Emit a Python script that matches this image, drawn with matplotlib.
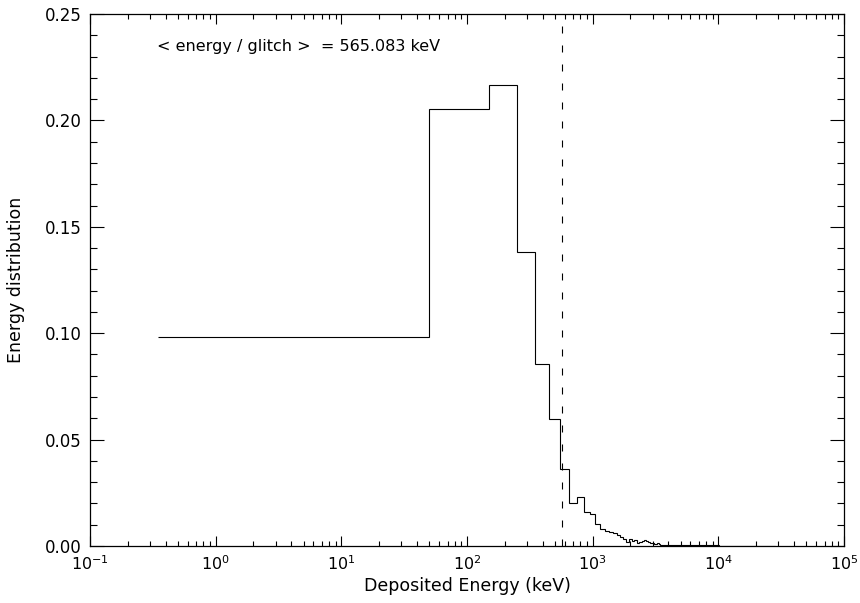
import numpy as np
import matplotlib
matplotlib.use("Agg")
import matplotlib.pyplot as plt
from matplotlib.ticker import LogLocator, MultipleLocator, FixedLocator

# bin edges (keV) and the normalised energy distribution
edges_fine = [0.35] + list(range(50, 3600, 100))
edges_tail = [4550, 6050, 8050, 10050, 15050, 28000]
bin_edges = np.array(edges_fine + edges_tail, dtype=float)

energy_dist = [
    0.0980, 0.2055, 0.2165, 0.1380, 0.0855, 0.0595, 0.0360, 0.0204,
    0.0232, 0.0160, 0.0150, 0.0105, 0.0082, 0.0069, 0.0064, 0.0059,
    0.0052, 0.0043, 0.0031, 0.0019, 0.0032, 0.0024, 0.0026, 0.0013,
    0.0017, 0.0022, 0.0027, 0.0024, 0.0019, 0.0014, 0.0016, 0.0011,
    0.0009, 0.0012, 0.0008, 0.0007,
    0.0006, 0.0005, 0.0006, 0.0004, 0.0002, 0.0001,
]

mean_energy = 565.083

STYLE = {
    "font": "DejaVu Sans",
    "label_size": 12.5,
    "tick_size": 12,
    "text_size": 11.5,
    "line_width": 0.8,
}

plt.rcParams["font.family"] = STYLE["font"]
plt.rcParams["mathtext.fontset"] = "dejavusans"

fig = plt.figure(figsize=(8.6, 6.03), dpi=100)
ax = fig.add_axes([90 / 860, 1 - 546 / 603, 754 / 860, 532 / 603])

ax.stairs(energy_dist, bin_edges, baseline=None, color="black",
          linewidth=STYLE["line_width"])
ax.axvline(mean_energy, color="black", linewidth=STYLE["line_width"],
           linestyle=(0, (6.3, 10.8)))

ax.set_xscale("log")
ax.set_xlim(0.1, 1e5)
ax.set_ylim(0, 0.25)

ax.xaxis.set_major_locator(FixedLocator([1e-1, 1e0, 1e1, 1e2, 1e3, 1e4, 1e5]))
ax.xaxis.set_minor_locator(LogLocator(base=10, subs=np.arange(2, 10), numticks=20))
ax.yaxis.set_major_locator(MultipleLocator(0.05))
ax.yaxis.set_minor_locator(MultipleLocator(0.01))
ax.yaxis.set_major_formatter(plt.FuncFormatter(lambda v, p: f"{v:.2f}"))

ax.tick_params(which="both", direction="in", top=True, right=True, width=0.8)
ax.tick_params(axis="y", which="major", length=10, pad=6, labelsize=STYLE["tick_size"])
ax.tick_params(axis="y", which="minor", length=5)
ax.tick_params(axis="x", which="major", length=7, pad=6, labelsize=STYLE["tick_size"] - 0.5)
ax.tick_params(axis="x", which="minor", length=3.5)
for s in ax.spines.values():
    s.set_linewidth(0.9)

ax.set_xlabel("Deposited Energy (keV)", fontsize=STYLE["label_size"], labelpad=3)
ax.set_ylabel("Energy distribution", fontsize=STYLE["label_size"], labelpad=14)

ax.text(0.089, 0.938, f"< energy / glitch >  = {mean_energy:.3f} keV",
        transform=ax.transAxes, fontsize=STYLE["text_size"], va="center", ha="left")

fig.savefig("out.png", dpi=100)
